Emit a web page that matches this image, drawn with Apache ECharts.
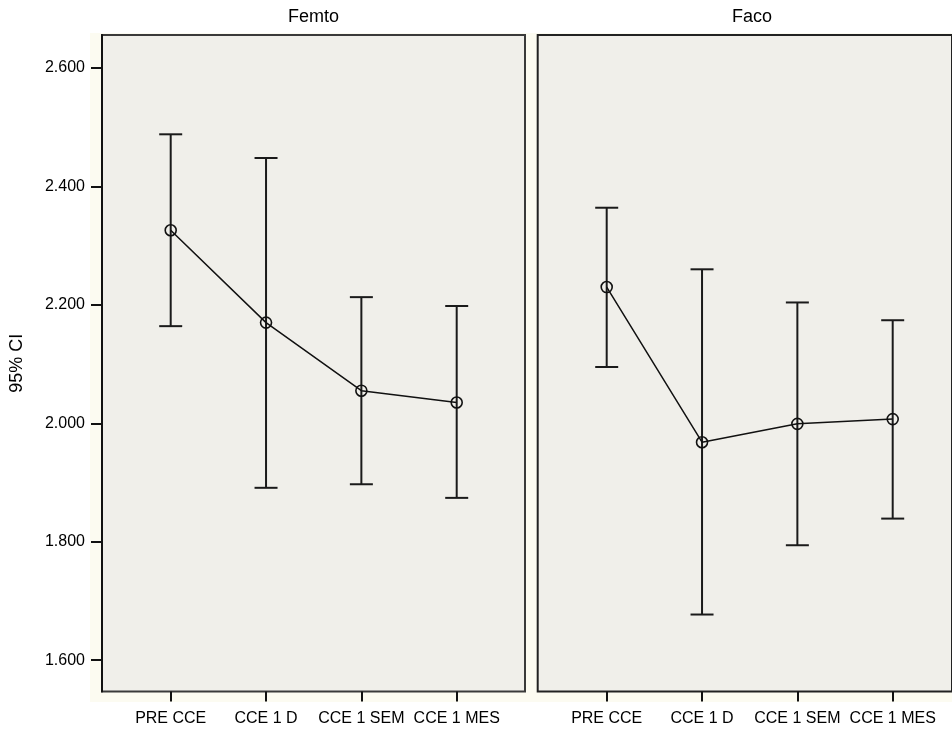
<!DOCTYPE html>
<html>
<head>
<meta charset="utf-8">
<script src="https://cdn.jsdelivr.net/npm/echarts@6/dist/echarts.min.js"></script>
<style>html,body{margin:0;padding:0;background:#fff}#c{width:952px;height:729px}</style>
</head>
<body>
<div id="c"></div>
<script>
var categories = ['PRE CCE', 'CCE 1 D', 'CCE 1 SEM', 'CCE 1 MES'];
var panelTitles = ['Femto', 'Faco'];
var yTicks = [1.6, 1.8, 2.0, 2.2, 2.4, 2.6];
var yName = '95% CI';

var femtoMean  = [2.326, 2.170, 2.055, 2.035];
var femtoLower = [2.164, 1.891, 1.897, 1.874];
var femtoUpper = [2.488, 2.448, 2.213, 2.198];

var facoMean  = [2.230, 1.968, 1.999, 2.007];
var facoLower = [2.095, 1.677, 1.794, 1.839];
var facoUpper = [2.364, 2.260, 2.204, 2.174];

var Y_MIN = 1.547, Y_MAX = 2.6557;
var TOP = 35, H = 656.5;
var FONT = 'Liberation Sans, Arial, Helvetica, sans-serif';
var panelBg = '#f0efea';

function errData(lo, hi) {
  return lo.map(function (l, i) { return [i, l, hi[i]]; });
}
function errSeries(xi, yi, lo, hi) {
  return {
    type: 'custom', xAxisIndex: xi, yAxisIndex: yi, z: 2,
    data: errData(lo, hi),
    renderItem: function (params, api) {
      var x = api.value(0);
      var a = api.coord([x, api.value(1)]);
      var b = api.coord([x, api.value(2)]);
      var hw = 11.5;
      var st = { stroke: '#1a1a1a', lineWidth: 2 };
      return { type: 'group', children: [
        { type: 'line', shape: { x1: a[0], y1: a[1], x2: b[0], y2: b[1] }, style: st },
        { type: 'line', shape: { x1: a[0] - hw, y1: a[1], x2: a[0] + hw, y2: a[1] }, style: st },
        { type: 'line', shape: { x1: b[0] - hw, y1: b[1], x2: b[0] + hw, y2: b[1] }, style: st }
      ]};
    }
  };
}
function meanSeries(xi, yi, d) {
  return {
    type: 'line', xAxisIndex: xi, yAxisIndex: yi, z: 3, data: d,
    symbol: 'circle', symbolSize: 11, silent: true, animation: false,
    lineStyle: { color: '#111', width: 1.5 },
    itemStyle: { color: 'rgba(0,0,0,0)', borderColor: '#111', borderWidth: 1.6 }
  };
}
function catAxis(gi) {
  return {
    type: 'category', gridIndex: gi, data: categories, boundaryGap: false,
    axisLine: { show: false },
    axisTick: { show: true, interval: 0, length: 10, alignWithLabel: true, lineStyle: { color: '#111', width: 2 } },
    axisLabel: { interval: 0, hideOverlap: false, margin: 19, fontSize: 16, color: '#000', fontFamily: FONT },
    splitLine: { show: false }
  };
}
function hiddenY(gi) {
  return { type: 'value', gridIndex: gi, min: Y_MIN, max: Y_MAX, show: false };
}

var chart = echarts.init(document.getElementById('c'));
chart.setOption({
  animation: false,
  backgroundColor: '#ffffff',
  graphic: [
    { type: 'rect', z: -10, shape: { x: 90, y: 33, width: 862, height: 669 }, style: { fill: '#fcfbf1' } },
    { type: 'text', x: 313.5, y: 17, style: { text: panelTitles[0], font: '18px ' + FONT, fill: '#000', align: 'center', verticalAlign: 'middle' } },
    { type: 'text', x: 752, y: 17, style: { text: panelTitles[1], font: '18px ' + FONT, fill: '#000', align: 'center', verticalAlign: 'middle' } }
  ],
  grid: [
    { left: 102, top: TOP, width: 423, height: H, show: true, backgroundColor: panelBg, borderColor: '#3a3a3a', borderWidth: 2 },
    { left: 170.7, top: TOP, width: 286, height: H },
    { left: 537.7, top: TOP, width: 424, height: H, show: true, backgroundColor: panelBg, borderColor: '#222', borderWidth: 2 },
    { left: 606.7, top: TOP, width: 286, height: H }
  ],
  xAxis: [
    { type: 'value', gridIndex: 0, show: false, min: 0, max: 1 },
    catAxis(1),
    { type: 'value', gridIndex: 2, show: false, min: 0, max: 1 },
    catAxis(3)
  ],
  yAxis: [
    {
      type: 'value', gridIndex: 0, min: Y_MIN, max: Y_MAX,
      name: yName, nameLocation: 'middle', nameGap: 76, nameRotate: 90,
      nameTextStyle: { fontSize: 18, color: '#000', fontFamily: FONT },
      axisLine: { show: true, lineStyle: { color: '#111', width: 2 } },
      axisTick: { show: true, length: 11, customValues: yTicks, lineStyle: { color: '#111', width: 2 } },
      axisLabel: { show: true, margin: 17, fontSize: 16, color: '#000', fontFamily: FONT, customValues: yTicks,
        formatter: function (v) { return Number(v).toFixed(3); } },
      splitLine: { show: false }
    },
    hiddenY(1),
    hiddenY(2),
    hiddenY(3)
  ],
  series: [
    errSeries(1, 1, femtoLower, femtoUpper),
    meanSeries(1, 1, femtoMean),
    errSeries(3, 3, facoLower, facoUpper),
    meanSeries(3, 3, facoMean)
  ]
});
</script>
</body>
</html>
